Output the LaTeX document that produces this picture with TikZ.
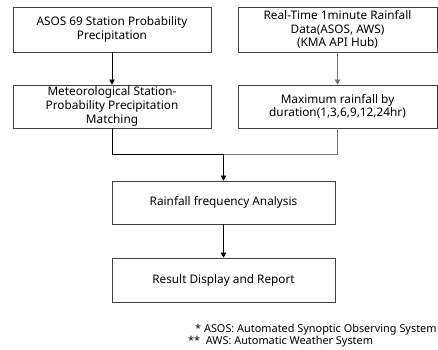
\documentclass[tikz,border=0pt]{standalone}
\usepackage{fontspec}
\setmainfont{Noto Sans}
\usetikzlibrary{arrows.meta}

\tikzset{
  box/.style={draw=black!75, line width=0.8pt, align=center, inner sep=2pt,
    font=\fontsize{11.8}{13.6}\selectfont},
  flow/.style={line width=0.7pt, -{Triangle[length=5pt,width=5.5pt]}},
  note/.style={anchor=west, inner sep=0pt, font=\fontsize{10.9}{12}\selectfont}
}

\begin{document}
\begin{tikzpicture}[x=1pt, y=-1pt]

\useasboundingbox (0,0) rectangle (438,349);

% nodes
\node[box, minimum width=198pt, minimum height=45pt] (asos) at (112,29.5)
  {ASOS 69 Station Probability\\Precipitation};
\node[box, minimum width=199pt, minimum height=45pt] (realtime) at (337.5,29.5)
  {Real-Time 1minute Rainfall\\Data(ASOS, AWS)\\(KMA API Hub)};
\node[box, minimum width=198pt, minimum height=43pt] (match) at (112,106.5)
  {Meteorological Station-\\Probability Precipitation\\Matching};
\node[box, minimum width=199pt, minimum height=43pt] (maxrain) at (337.5,106.5)
  {Maximum rainfall by\\duration(1,3,6,9,12,24hr)};
\node[box, minimum width=223pt, minimum height=43pt] (freq) at (223.5,202.5)
  {Rainfall frequency Analysis};
\node[box, minimum width=223pt, minimum height=44pt] (result) at (223.5,280)
  {Result Display and Report};
\coordinate (join) at (223.5,154);

\node[note] (asosnote) at (195,330) {* ASOS: Automated Synoptic Observing System};
\node[note] (awsnote) at (188,342) {**\ \ AWS: Automatic Weather System};

% arrows
\draw[flow] (asos) -- (match);
\draw[flow, draw=black!55, fill=black] (realtime) -- (maxrain);
\draw[line width=0.7pt] (match) |- (join);
\draw[line width=0.7pt, black!55] (maxrain) |- (join);
\draw[flow] (join) -- (freq);
\draw[flow] (freq) -- (result);

\end{tikzpicture}
\end{document}
